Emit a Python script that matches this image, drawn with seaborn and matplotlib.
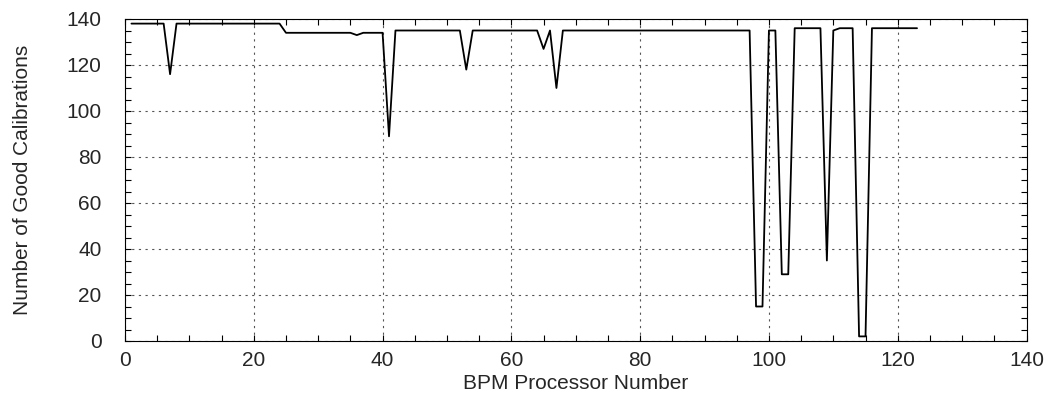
import matplotlib
matplotlib.use("Agg")
import matplotlib.pyplot as plt
from matplotlib.ticker import MultipleLocator
import pandas as pd
import seaborn as sns

# Processor numbers 1..123 and the count of good calibrations for each
processor = list(range(1, 124))
good_calibrations = [
    138, 138, 138, 138, 138, 138, 116, 138, 138, 138,   # 1-10
    138, 138, 138, 138, 138, 138, 138, 138, 138, 138,   # 11-20
    138, 138, 138, 138, 134, 134, 134, 134, 134, 134,   # 21-30
    134, 134, 134, 134, 134, 133, 134, 134, 134, 134,   # 31-40
    89, 135, 135, 135, 135, 135, 135, 135, 135, 135,    # 41-50
    135, 135, 118, 135, 135, 135, 135, 135, 135, 135,   # 51-60
    135, 135, 135, 135, 127, 135, 110, 135, 135, 135,   # 61-70
    135, 135, 135, 135, 135, 135, 135, 135, 135, 135,   # 71-80
    135, 135, 135, 135, 135, 135, 135, 135, 135, 135,   # 81-90
    135, 135, 135, 135, 135, 135, 135, 15, 15, 135,     # 91-100
    135, 29, 29, 136, 136, 136, 136, 136, 35, 135,      # 101-110
    136, 136, 136, 2, 2, 136, 136, 136, 136, 136,       # 111-120
    136, 136, 136,                                      # 121-123
]

x_ticks = [0, 20, 40, 60, 80, 100, 120, 140]
y_ticks = [0, 20, 40, 60, 80, 100, 120, 140]

df = pd.DataFrame({"BPM Processor Number": processor,
                   "Number of Good Calibrations": good_calibrations})

sns.set_style("ticks")
plt.rcParams["font.family"] = ["Liberation Sans", "DejaVu Sans"]

fig = plt.figure(figsize=(10.53, 4.04), dpi=100)
ax = fig.add_axes([125 / 1053, 1 - 341 / 404, (1026.5 - 125) / 1053, (341 - 19) / 404])

sns.lineplot(data=df, x="BPM Processor Number", y="Number of Good Calibrations",
             ax=ax, color="black", linewidth=1.3, zorder=3)

ax.set_xlim(0, 140)
ax.set_ylim(0, 140)
ax.set_xticks(x_ticks)
ax.set_yticks(y_ticks)
ax.xaxis.set_minor_locator(MultipleLocator(5))
ax.yaxis.set_minor_locator(MultipleLocator(5))

ax.tick_params(which="both", direction="in", top=True, right=True,
               length=4, width=0.8, color="black", labelsize=15)
ax.tick_params(which="both", labeltop=False, labelright=False)
ax.tick_params(axis="x", which="major", pad=7)
ax.tick_params(axis="y", which="major", pad=17)

ax.grid(True, which="major", color="#555555", linestyle=(0, (2, 4)), linewidth=0.8)

for side in ax.spines.values():
    side.set_color("black")
    side.set_linewidth(0.8)

ax.set_xlabel("BPM Processor Number", fontsize=15, labelpad=3)
ax.set_ylabel("Number of Good Calibrations", fontsize=15, labelpad=25)

fig.savefig("out.png", dpi=100)
